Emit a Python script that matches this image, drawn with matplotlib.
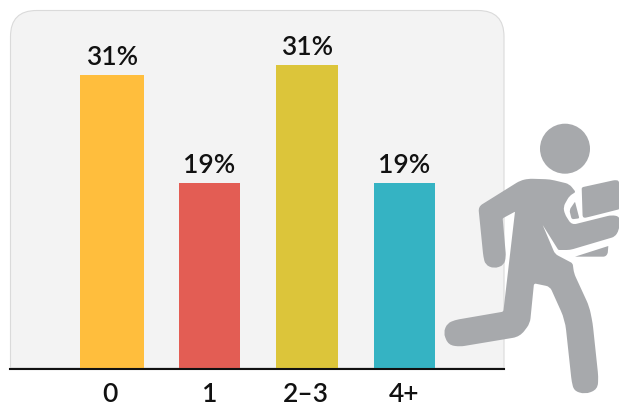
import matplotlib
matplotlib.use("Agg")
import matplotlib.pyplot as plt
from matplotlib.path import Path
from matplotlib.patches import PathPatch, Circle
import numpy as np

categories = ["0", "1", "2–3", "4+"]
bar_heights = [30.0, 19.0, 31.0, 19.0]
labels = ["31%", "19%", "31%", "19%"]
colors = ["#FFBE3D", "#E35D54", "#DCC53A", "#35B3C3"]

plt.rcParams["font.family"] = ["Lato", "DejaVu Sans"]
W, H = 619, 404
fig = plt.figure(figsize=(W / 100, H / 100), dpi=100, facecolor="white")

# backdrop in pixel coordinates
bg = fig.add_axes([0, 0, 1, 1], zorder=0)
bg.set_xlim(0, W); bg.set_ylim(H, 0); bg.axis("off")
L, R, T, B, r = 10.5, 504, 10.5, 368, 26
verts = [(L, B), (L, T + r), (L, T), (L + r, T), (R - r, T), (R, T), (R, T + r), (R, B), (L, B)]
codes = [Path.MOVETO, Path.LINETO, Path.CURVE3, Path.CURVE3, Path.LINETO, Path.CURVE3, Path.CURVE3, Path.LINETO, Path.CLOSEPOLY]
bg.add_patch(PathPatch(Path(verts, codes), fc="#F3F3F3", ec="#DADADA", lw=0.8))

# chart
ax = fig.add_axes([10 / W, (H - 369) / H, 494 / W, 358 / H], zorder=1)
ax.patch.set_alpha(0)
px = 97.5
ax.set_xlim(-(112 - 10) / px, (504 - 112) / px)
ax.set_ylim(0, 358 / 9.8)
x = list(range(len(categories)))
bars = ax.bar(x, bar_heights, width=[0.655, 0.635, 0.635, 0.635], color=colors, linewidth=0)
for b, t in zip(bars, labels):
    ax.annotate(t, (b.get_x() + b.get_width() / 2, b.get_height()), xytext=(0, 3.5),
                textcoords="offset points", ha="center", va="bottom",
                fontsize=19, fontweight=600, color="#111111")
ax.set_xticks([-0.02, 1, 1.99, 3], categories, fontweight=600)
ax.set_yticks([])
ax.tick_params(axis="x", length=0, pad=9.2, labelsize=19, labelcolor="#111111")
for s in ("top", "left", "right"):
    ax.spines[s].set_visible(False)
ax.spines["bottom"].set_linewidth(1.5)
ax.spines["bottom"].set_color("#111111")

# running person icon, drawn in pixel coordinates
ic = fig.add_axes([0, 0, 1, 1], zorder=2)
ic.set_xlim(0, W); ic.set_ylim(H, 0); ic.axis("off")
GREY = "#A7A9AC"

def rounded(pts, default=14):
    """Closed path from (x, y[, radius]) vertices given in the icon's own units."""
    p = [np.array(q[:2], float) for q in pts]
    rad = [q[2] if len(q) > 2 else default for q in pts]
    n = len(p)
    vs, cs = [], []
    for i in range(n):
        a, b, c = p[i - 1], p[i], p[(i + 1) % n]
        d1, d2 = a - b, c - b
        l1, l2 = np.hypot(*d1), np.hypot(*d2)
        rr = min(rad[i], l1 / 2, l2 / 2)
        s, e = b + d1 / l1 * rr, b + d2 / l2 * rr
        vs += [s, b, e]
        cs += [Path.MOVETO if i == 0 else Path.LINETO, Path.CURVE3, Path.CURVE3]
    vs.append(vs[0]); cs.append(Path.CLOSEPOLY)
    vs = [(430 + v[0] / 3, 110 + v[1] / 3) for v in vs]
    return Path(vs, cs)

ic.add_patch(Circle((565, 148.7), 25, fc=GREY, ec="none"))
body = [(145, 290, 14), (270, 212, 25), (295, 206, 20), (360, 208), (418, 222, 12), (437, 246, 5), (418, 258, 10),
        (400, 290, 20), (404, 312, 15), (425, 345, 15), (545, 315, 12), (570, 320, 18), (567, 360, 22), (555, 380, 10),
        (420, 420, 10), (385, 420, 3), (338, 345, 1), (375, 432, 10), (428, 460, 6), (432, 490, 12), (478, 590, 20), (488, 640),
        (505, 800), (503, 838, 22), (465, 853, 25), (432, 842, 22), (425, 815), (405, 630, 30), (360, 530, 12), (312, 520, 6), (300, 640, 15),
        (270, 680, 22), (90, 710), (55, 705, 22), (40, 668, 25), (52, 640, 22), (75, 630), (220, 605, 5), (255, 305, 2), (218, 325, 3),
        (228, 440), (222, 465, 20), (192, 476, 22), (166, 464, 20), (160, 440)]
ic.add_patch(PathPatch(rounded(body), fc=GREY, ec="none"))
ic.add_patch(PathPatch(rounded([(455, 232, 5), (555, 210, 8), (567, 212, 6), (567, 298, 2), (480, 320, 10), (458, 325, 10)]),
                       fc=GREY, ec="none"))
ic.add_patch(PathPatch(rounded([(435, 440, 1), (535, 408, 1), (533, 432, 6), (525, 440, 5)]), fc=GREY, ec="none"))
ic.add_patch(PathPatch(rounded([(418, 300, 8), (435, 275, 3), (448, 325, 4), (425, 328, 6)]), fc=GREY, ec="none"))

fig.savefig("out.png", dpi=100)
